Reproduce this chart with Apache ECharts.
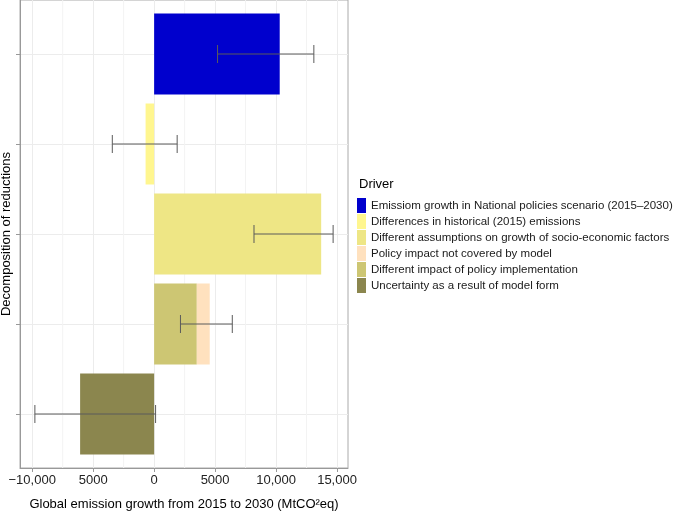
<!DOCTYPE html>
<html><head><meta charset="utf-8">
<script src="https://cdn.jsdelivr.net/npm/echarts@6/dist/echarts.min.js"></script>
<style>html,body{margin:0;padding:0;background:#fff}#c{width:673px;height:512px}</style>
</head><body><div id="c"></div>
<script>
const categories = ['National policies scenario', 'Historical emissions', 'Socio-economic growth', 'Policy implementation', 'Model form'];
const drivers = ['Emissiom growth in National policies scenario (2015–2030)', 'Differences in historical (2015) emissions', 'Different assumptions on growth of socio-economic factors', 'Policy impact not covered by model', 'Different impact of policy implementation', 'Uncertainty as a result of model form'];
const driverColors = ['#0000CD', '#FFF68F', '#EEE685', '#FFE1BE', '#CDC673', '#8B864E'];
// bar values per driver, one slot per category (null = no bar)
const nationalGrowth       = [10300, null, null, null, null];
const historicalDiff       = [null, -700, null, null, null];
const socioEconomic        = [null, null, 13700, null, null];
const policyNotCovered     = [null, null, null, 1060, null];
const policyImplementation = [null, null, null, 3500, null];
const modelForm            = [null, null, null, null, -6070];
const errorLow  = [5200, -3430, 8190, 2160, -9780];
const errorHigh = [13100, 1890, 14680, 6410, 120];
const xTickValues = [-10000, -5000, 0, 5000, 10000, 15000];
const xTickLabels = ['−10,000', '5000', '0', '5000', '10,000', '15,000'];
const xMinorGrid = [-7500, -2500, 2500, 7500, 12500];

const FONT = '"Liberation Sans", Arial, Helvetica, sans-serif';
const X_MIN = -11000, X_MAX = 15900;
const catPos = categories.map((c, i) => i + 1);
const seriesValues = {};
seriesValues[drivers[0]] = nationalGrowth;
seriesValues[drivers[1]] = historicalDiff;
seriesValues[drivers[2]] = socioEconomic;
seriesValues[drivers[3]] = policyNotCovered;
seriesValues[drivers[4]] = policyImplementation;
seriesValues[drivers[5]] = modelForm;
// stacking order: implementation nearest zero, then not-covered
const stackOrder = [0, 1, 2, 4, 3, 5];

const chart = echarts.init(document.getElementById('c'), null, {renderer: 'canvas'});
const barSeries = stackOrder.map(i => ({
  name: drivers[i], type: 'bar', xAxisIndex: 1, yAxisIndex: 1, stack: 'total',
  barWidth: '90%', data: seriesValues[drivers[i]], itemStyle: {color: driverColors[i]},
  z: 2
}));

const option = {
  animation: false,
  textStyle: {fontFamily: FONT},
  title: {text: 'Driver', left: 359, top: 178, padding: 0,
    textStyle: {fontSize: 13, fontWeight: 'normal', color: '#000', fontFamily: FONT}},
  legend: {data: drivers, orient: 'vertical', left: 357, top: 198, padding: 0,
    itemWidth: 9, itemHeight: 15, itemGap: 1, icon: 'rect', selectedMode: false,
    textStyle: {fontSize: 11.5, color: '#1a1a1a', fontFamily: FONT}},
  grid: [
    {left: 20, right: 325, top: 0, bottom: 44, outerBoundsMode: 'none', containLabel: false,
      show: true, borderColor: '#aaa', borderWidth: 1, backgroundColor: 'transparent'},
    {left: 20, right: 325, top: 9, bottom: 53, outerBoundsMode: 'none', containLabel: false}
  ],
  xAxis: [
    {gridIndex: 0, type: 'value', min: X_MIN, max: X_MAX,
      axisLine: {show: true, onZero: false, lineStyle: {color: '#999'}},
      axisTick: {show: true, customValues: xTickValues, length: 4, lineStyle: {color: '#999'}},
      axisLabel: {customValues: xTickValues, formatter: v => xTickLabels[xTickValues.indexOf(v)],
        fontSize: 13, color: '#222', margin: 6, fontFamily: FONT},
      splitLine: {show: true, lineStyle: {color: '#ececec', width: 1}},
      name: 'Global emission growth from 2015 to 2030 (MtCO²eq)', nameLocation: 'middle', nameGap: 30,
      nameTextStyle: {fontSize: 13, color: '#000', fontFamily: FONT}},
    {gridIndex: 1, type: 'value', min: X_MIN, max: X_MAX, show: false}
  ],
  yAxis: [
    {gridIndex: 0, type: 'value', min: 0.4, max: 5.6, inverse: true,
      axisLine: {show: true, onZero: false, lineStyle: {color: '#999'}},
      axisTick: {show: true, customValues: catPos, length: 4, lineStyle: {color: '#999'}},
      axisLabel: {show: false},
      splitLine: {show: true, lineStyle: {color: '#ececec', width: 1}},
      name: 'Decomposition of reductions', nameLocation: 'middle', nameRotate: 90, nameGap: 7,
      nameTextStyle: {fontSize: 13, color: '#000', fontFamily: FONT}},
    {gridIndex: 1, type: 'category', data: categories, inverse: true, show: false}
  ],
  series: [
    {type: 'custom', name: 'minorGrid', xAxisIndex: 0, yAxisIndex: 0, z: 1, silent: true,
      data: xMinorGrid.map(v => [v, 0.4, 5.6]), encode: {x: 0, y: [1, 2]},
      renderItem: (params, api) => {
        const a = api.coord([api.value(0), api.value(1)]);
        const b = api.coord([api.value(0), api.value(2)]);
        return {type: 'line', shape: {x1: a[0], y1: a[1], x2: b[0], y2: b[1]},
          style: {stroke: '#f3f3f3', lineWidth: 1}};
      }},
    ...barSeries,
    {type: 'custom', name: 'errorbars', xAxisIndex: 0, yAxisIndex: 0, z: 5, silent: true,
      data: catPos.map((p, i) => [p, errorLow[i], errorHigh[i]]), encode: {y: 0, x: [1, 2]},
      renderItem: (params, api) => {
        const y = api.value(0), lo = api.value(1), hi = api.value(2);
        const p1 = api.coord([lo, y]), p2 = api.coord([hi, y]);
        const t = api.coord([lo, y - 0.1])[1], b = api.coord([lo, y + 0.1])[1];
        const st = {stroke: '#5a5a5a', lineWidth: 1};
        return {type: 'group', children: [
          {type: 'line', shape: {x1: p1[0], y1: p1[1], x2: p2[0], y2: p2[1]}, style: st},
          {type: 'line', shape: {x1: p1[0], y1: t, x2: p1[0], y2: b}, style: st},
          {type: 'line', shape: {x1: p2[0], y1: t, x2: p2[0], y2: b}, style: st}
        ]};
      }}
  ]
};
chart.setOption(option);
</script>
</body></html>
